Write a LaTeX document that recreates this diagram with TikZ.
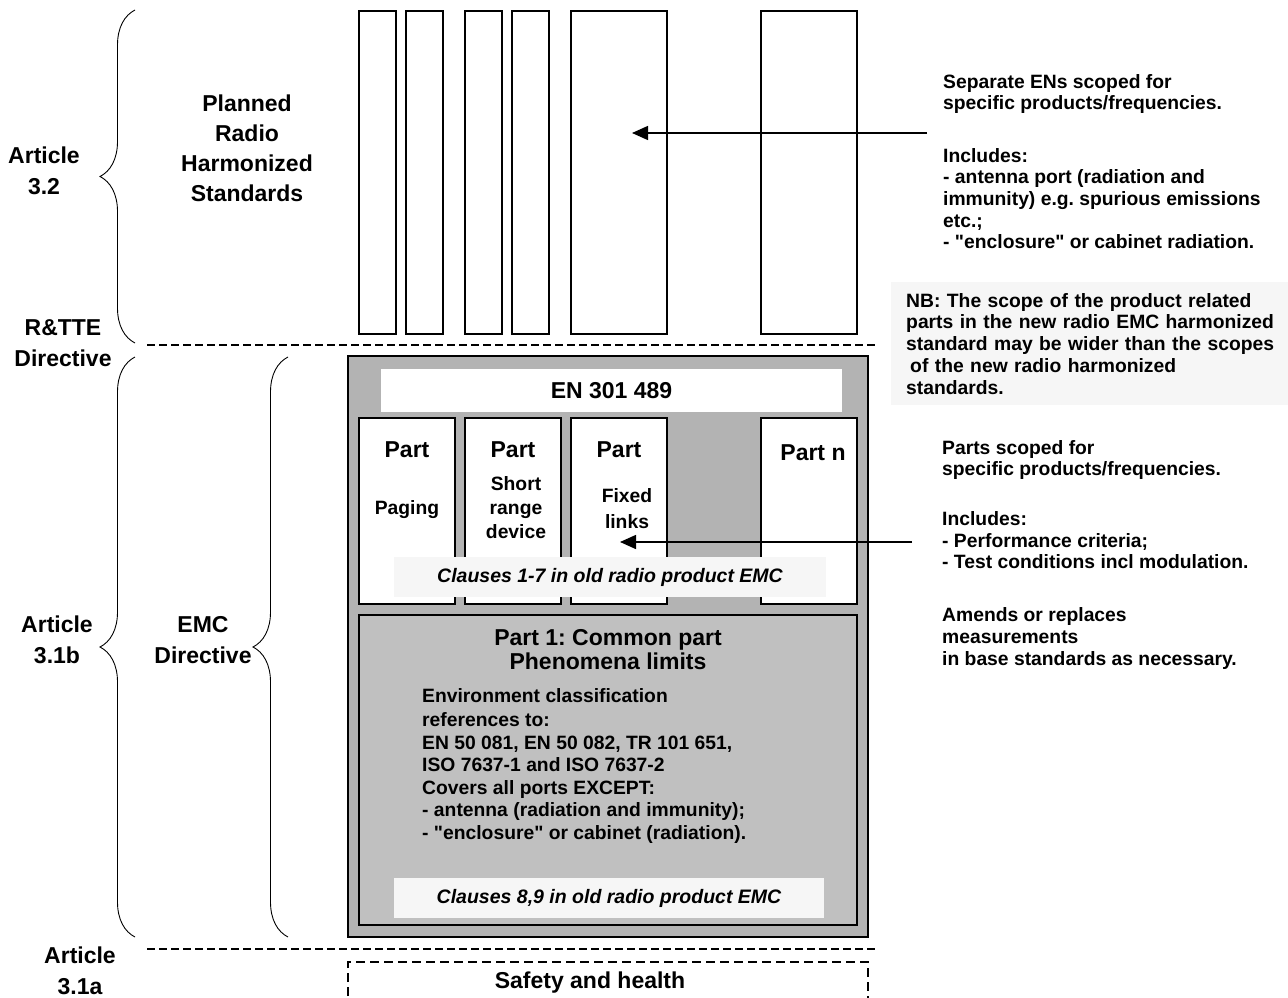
\documentclass[tikz,border=0pt]{standalone}
\usepackage{fontspec}
\setmainfont{Liberation Sans}[Ligatures=TeXOff]
\usetikzlibrary{arrows.meta,decorations.pathreplacing}
\definecolor{emcgrey}{RGB}{179,179,179}
\definecolor{commongrey}{RGB}{192,192,192}
\definecolor{notegrey}{RGB}{246,246,246}
\frenchspacing
\tikzset{
  big/.style={font=\bfseries\fontsize{23}{31}\selectfont, align=center, inner sep=0pt},
  small/.style={font=\bfseries\fontsize{19.3}{21.7}\selectfont, inner sep=0pt},
  note/.style={small, align=left, anchor=north west},
  curly/.style={decorate, decoration={brace, amplitude=35pt}, line width=0.9pt},
  sepline/.style={dash pattern=on 8pt off 4pt, line width=1.3pt},
  hsbox/.style={draw, line width=1.3pt, fill=white},
  partbox/.style={draw, line width=1.3pt, fill=white},
  clausebar/.style={small, font=\bfseries\itshape\fontsize{19.5}{21.7}\selectfont, fill=notegrey, minimum height=40pt},
  ptr/.style={line width=1.5pt, -{Triangle[length=16pt,width=14pt]}}
}
\begin{document}
\begin{tikzpicture}[x=1pt,y=-1pt]
\useasboundingbox (0,0) rectangle (1288,998);

\node[big] (art32) at (44,171) {Article\\3.2};
\node[big] (rtte) at (63,343) {R\&TTE\\Directive};
\node[big, font=\bfseries\fontsize{23}{30}\selectfont] (planned) at (247,148) {Planned\\Radio\\Harmonized\\Standards};
\node[big] (art31b) at (57,640) {Article\\3.1b};
\node[big] (emcdir) at (203,640) {EMC\\Directive};
\node[big] (art31a) at (80,971) {Article\\3.1a};

\draw[curly] (135,343) -- (135,10);
\draw[curly] (135,937) -- (135,357);
\draw[curly] (288,937) -- (288,357);

\foreach \l/\r in {359/396, 406/443, 465/502, 512/549, 571/667, 761/857}
  \draw[hsbox] (\l,11) rectangle (\r,334);

\draw[sepline] (147,345) -- (876,345);
\draw[sepline] (147,949) -- (876,949);

\draw[line width=1.5pt, fill=emcgrey] (348,356) rectangle (868,937);
\node[big, fill=white, minimum width=461pt, minimum height=43pt] (en) at (611.5,390.5) {EN 301 489};

\draw[partbox] (359,418) rectangle (455,604);
\draw[partbox] (465,418) rectangle (561,604);
\draw[partbox] (571,418) rectangle (667,604);
\draw[partbox] (761,418) rectangle (857,604);
\node[big] (p2) at (407,450) {Part};
\node[big] (p3) at (513,450) {Part};
\node[big] (p4) at (619,450) {Part};
\node[big] (pn) at (813,453) {Part n};
\node[small] (paging) at (407,510) {Paging};
\node[small, align=center, font=\bfseries\fontsize{19.3}{24}\selectfont] (srd) at (516,508) {Short\\range\\device};
\node[small, align=center, font=\bfseries\fontsize{19.3}{26}\selectfont] (fixed) at (627,509) {Fixed\\links};
\node[clausebar, minimum width=432pt] (cl17) at (610,577) {Clauses 1-7 in old radio product EMC};

\draw[line width=1.5pt, fill=commongrey] (359,615) rectangle (857,925);
\node[big, font=\bfseries\fontsize{23}{24}\selectfont] (common) at (608,650) {Part 1: Common part\\Phenomena limits};
\node[note, font=\bfseries\fontsize{19.3}{22.5}\selectfont] (env) at (422,688) {Environment classification\\[2pt]references to:\\EN 50 081, EN 50 082, TR 101 651,\\ISO 7637-1 and ISO 7637-2\\Covers all ports EXCEPT:\\- antenna (radiation and immunity);\\- "enclosure" or cabinet (radiation).};
\node[clausebar, minimum width=430pt] (cl89) at (609,898) {Clauses 8,9 in old radio product EMC};

\draw[dash pattern=on 9pt off 5pt, line width=2pt] (348,1010) -- (348,962) -- (868,962) -- (868,1010);
\node[big] (safety) at (590,983) {Safety and health};

\node[note] (sepen) at (943,74) {Separate ENs scoped for\\specific products/frequencies.\\[30.5pt]Includes:\\- antenna port (radiation and\\immunity) e.g. spurious emissions\\etc.;\\- "enclosure" or cabinet radiation.};
\node[small, align=left, fill=notegrey, anchor=north west, text width=385pt, inner xsep=15pt, minimum height=123pt] (nb) at (891,282) {NB: The scope of the product related\\parts in the new radio EMC harmonized\\standard may be wider than the scopes\\\hspace*{4pt}of the new radio harmonized\\standards.};
\node[note] (partsnote) at (942,440) {Parts scoped for\\specific products/frequencies.\\[28pt]Includes:\\- Performance criteria;\\- Test conditions incl modulation.\\[31pt]Amends or replaces\\measurements\\in base standards as necessary.};

\coordinate (a1from) at (927,133);
\coordinate (a1to) at (632,133);
\coordinate (a2from) at (912,542);
\coordinate (a2to) at (620,542);
\draw[ptr] (a1from) -- (a1to);
\draw[ptr] (a2from) -- (a2to);
\end{tikzpicture}
\end{document}
